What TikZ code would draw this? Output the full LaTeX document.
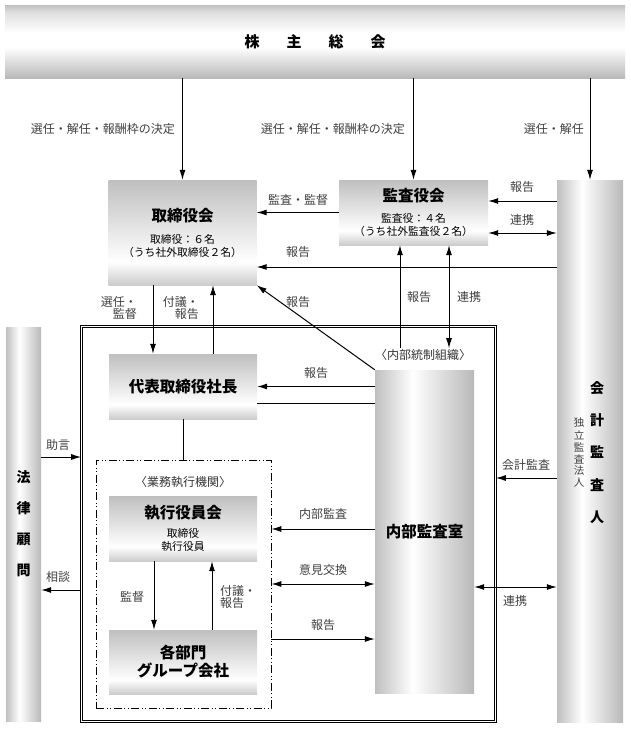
\documentclass[tikz,border=0pt]{standalone}
\usepackage{fontspec}
\setmainfont{Noto Sans CJK JP}
\usetikzlibrary{arrows.meta,positioning}

\newcommand\titlefont{\fontsize{15.5}{18}\selectfont\bfseries}
\newcommand\subfont{\fontsize{10.8}{13}\selectfont}
\newcommand\lblfont{\fontsize{12}{12}\selectfont}

% shadings (the path is mapped to the central 50bp)
\pgfdeclareverticalshading{barshade}{100bp}{color(0bp)=(gray!55); color(25bp)=(gray!55); color(46bp)=(white); color(56bp)=(white); color(70bp)=(gray!25); color(75bp)=(gray!50); color(100bp)=(gray!50)}
\pgfdeclareverticalshading{boxshade}{100bp}{color(0bp)=(gray!40); color(25bp)=(gray!40); color(36bp)=(white); color(75bp)=(gray!50); color(100bp)=(gray!50)}
\pgfdeclarehorizontalshading{colshade}{100bp}{color(0bp)=(gray!50); color(25bp)=(gray!50); color(44bp)=(white); color(75bp)=(gray!55); color(100bp)=(gray!55)}

\tikzset{
  orgbox/.style={shade, shading=boxshade, minimum width=148pt, inner sep=0pt, align=center, font=\subfont, text=black},
  colbox/.style={shade, shading=colshade, inner sep=0pt},
  lbl/.style={font=\lblfont, text=black!75, inner sep=1pt},
  vtitle/.style={font=\fontsize{14}{16}\selectfont\bfseries, inner sep=0pt},
  vsub/.style={font=\fontsize{10.5}{12}\selectfont, text=black!75, inner sep=0pt},
  arr/.style={-{Latex[length=10pt,width=6pt]}, line width=1pt},
  dblarr/.style={{Latex[length=10pt,width=6pt]}-{Latex[length=10pt,width=6pt]}, line width=1pt},
  plainline/.style={line width=1pt},
}

\begin{document}
\begin{tikzpicture}[x=1pt,y=-1pt]
\useasboundingbox (0,0) rectangle (630,731);

% top
\node[shade, shading=barshade, minimum width=620pt, minimum height=73pt, inner sep=0pt, font=\fontsize{15}{18}\selectfont\bfseries] (gm) at (315,41.5) {株\hspace{27pt}主\hspace{27pt}総\hspace{27pt}会};

% boards
\node[orgbox, minimum height=105pt] (board) at (182.5,232.5) {{\titlefont 取締役会}\\[9pt]取締役：６名\\（うち社外取締役２名）};
\node[orgbox, minimum width=149pt, minimum height=65pt] (kansa) at (413.5,212.5) {{\titlefont 監査役会}\\[8pt]監査役：４名\\（うち社外監査役２名）};

% columns
\node[colbox, minimum width=66pt, minimum height=542pt] (aud) at (590,451) {};
\node[colbox, minimum width=35pt, minimum height=394pt] (legal) at (23.5,524) {};
\foreach \ch [count=\i] in {会,計,監,査,人}
  \node[vtitle] (audc\i) at (597,{388+32.2*(\i-1)}) {\ch};
\foreach \ch [count=\i] in {独,立,監,査,法,人}
  \node[vsub] (audf\i) at (579,{423+12*(\i-1)}) {\ch};
\foreach \ch [count=\i] in {法,律,顧,問}
  \node[vtitle] (legalc\i) at (23.5,{477+31.3*(\i-1)}) {\ch};

% internal control
\node[draw, line width=0.6pt, double, double distance=1.8pt, minimum width=414pt, minimum height=395pt, inner sep=0pt] (ic) at (288.5,524) {};
\node[font=\fontsize{12}{14}\selectfont, text=black!80, inner sep=1pt] (icl) at (423,355) {〈内部統制組織〉};
\node[orgbox, minimum height=65pt, font=\titlefont] (pres) at (183,386.5) {代表取締役社長};
\node[shade, shading=colshade, minimum width=99pt, minimum height=323pt, inner sep=0pt, font=\titlefont] (ia) at (424.5,531.5) {内部監査室};

% executive
\node[draw, line width=0.8pt, dash pattern=on 8pt off 2.5pt on 1pt off 2.5pt on 1pt off 2.5pt, minimum width=175pt, minimum height=248pt, inner sep=0pt] (exe) at (183.5,584) {};
\node[font=\fontsize{12}{14}\selectfont, text=black!80, inner sep=1pt] (exel) at (183,482) {〈業務執行機関〉};
\node[orgbox, minimum height=65pt] (exec) at (183,528.5) {{\titlefont 執行役員会}\\[6pt]取締役\\執行役員};
\node[orgbox, minimum height=64pt, font=\titlefont] (depts) at (183,662) {各部門\\グループ会社};

% from the general meeting
\draw[arr] (gm.south -| board.north) -- (board.north);
\draw[arr] (gm.south -| kansa.north) -- (kansa.north);
\draw[arr] (gm.south -| aud.north) -- (aud.north);
\node[lbl, anchor=east] (l1) at (176,129) {選任・解任・報酬枠の決定};
\node[lbl, anchor=east] (l2) at (406,129) {選任・解任・報酬枠の決定};
\node[lbl, anchor=east] (l3) at (585,129) {選任・解任};

% board level
\draw[arr] (kansa.west) -- (kansa.west -| board.east);
\node[lbl] (l4) at (298,200) {監査・監督};
\draw[arr] (aud.west |- 0,267) -- (board.east |- 0,267);
\node[lbl] (l5) at (298,252) {報告};
\draw[arr] (aud.west |- 0,201) -- (kansa.east |- 0,201);
\node[lbl] (l6) at (522,187) {報告};
\draw[dblarr] (kansa.east |- 0,233) -- (aud.west |- 0,233);
\node[lbl] (l7) at (522,220) {連携};

% board and president
\draw[arr] (board.south -| 153,0) -- (pres.north -| 153,0);
\node[lbl, align=right, anchor=east] (l8) at (138,308) {選任・\\監督};
\draw[arr] (pres.north -| 213,0) -- (board.south -| 213,0);
\node[lbl, align=right, anchor=east] (l9) at (200,308) {付議・\\報告};
\draw[arr] (ia.north west) -- (board.south east);
\node[lbl] (l10) at (298,302) {報告};

% audit board and internal control
\draw[arr] (icl.north -| 400,0) -- (kansa.south -| 400,0);
\node[lbl] (l11) at (419,297) {報告};
\draw[dblarr] (kansa.south -| 449,0) -- (icl.north -| 449,0);
\node[lbl] (l12) at (469,297) {連携};

% inside internal control
\draw[arr] (ia.west |- pres.east) -- (pres.east);
\node[lbl] (l13) at (316,373) {報告};
\draw[plainline] (pres.east |- 0,403) -- (ia.west |- 0,403);
\draw[plainline] (pres.south) -- (pres.south |- exe.north);
\draw[arr] (ia.west |- 0,529) -- (exe.east |- 0,529);
\node[lbl] (l14) at (323,514) {内部監査};
\draw[dblarr] (exe.east |- 0,584) -- (ia.west |- 0,584);
\node[lbl] (l15) at (323,570) {意見交換};
\draw[arr] (exe.east |- 0,639) -- (ia.west |- 0,639);
\node[lbl] (l16) at (323,625) {報告};
\draw[arr] (exec.south -| 154,0) -- (depts.north -| 154,0);
\node[lbl] (l17) at (132,597) {監督};
\draw[arr] (depts.north -| 212,0) -- (exec.south -| 212,0);
\node[lbl, align=left, anchor=west] (l18) at (219,597) {付議・\\報告};

% outside
\draw[dblarr] (ia.east |- 0,587) -- (aud.west |- 0,587);
\node[lbl] (l19) at (515,601) {連携};
\draw[arr] (aud.west |- 0,478) -- (ic.east |- 0,478);
\node[lbl] (l20) at (526,465) {会計監査};
\draw[arr] (legal.east |- 0,457) -- (ic.west |- 0,457);
\node[lbl] (l21) at (58,445) {助言};
\draw[arr] (ic.west |- 0,590) -- (legal.east |- 0,590);
\node[lbl] (l22) at (58,577) {相談};
\end{tikzpicture}
\end{document}
